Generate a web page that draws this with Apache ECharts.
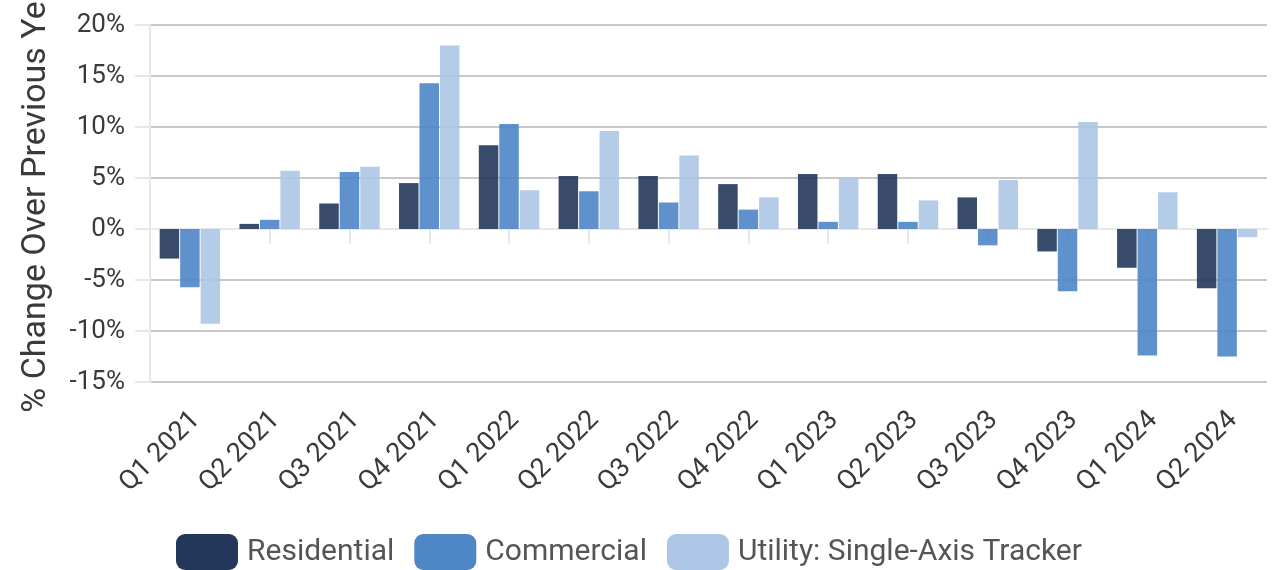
<!DOCTYPE html>
<html>
<head>
<meta charset="utf-8">
<script src="https://cdn.jsdelivr.net/npm/echarts@6/dist/echarts.min.js"></script>
<style>
html,body{margin:0;padding:0;background:#fff;}
#c{width:1276px;height:570px;}
</style>
</head>
<body>
<div id="c"></div>
<script>
var categories = ['Q1 2021','Q2 2021','Q3 2021','Q4 2021','Q1 2022','Q2 2022','Q3 2022','Q4 2022','Q1 2023','Q2 2023','Q3 2023','Q4 2023','Q1 2024','Q2 2024'];
var residential = [-2.9, 0.5, 2.5, 4.5, 8.2, 5.2, 5.2, 4.4, 5.4, 5.4, 3.1, -2.2, -3.8, -5.8];
var commercial  = [-5.7, 0.9, 5.6, 14.3, 10.3, 3.7, 2.6, 1.9, 0.7, 0.7, -1.6, -6.1, -12.4, -12.5];
var utility     = [-9.3, 5.7, 6.1, 18.0, 3.8, 9.6, 7.2, 3.1, 5.0, 2.8, 4.8, 10.5, 3.6, -0.8];
var seriesNames = ['Residential', 'Commercial', 'Utility: Single-Axis Tracker'];
var colors = ['#22375a', '#4e86c6', '#adc6e6'];

var chart = echarts.init(document.getElementById('c'), null, {renderer: 'canvas'});
var font = 'Roboto';
function bar(name, data, color) {
  return {
    name: name, type: 'bar', data: data,
    barWidth: 19.5, barGap: '5%',
    itemStyle: {color: color, opacity: 0.9},
    emphasis: {disabled: true}
  };
}
chart.setOption({
  animation: false,
  color: colors,
  textStyle: {fontFamily: font},
  grid: {left: 150, right: 9, top: 25, bottom: 188, containLabel: false, outerBoundsMode: 'none'},
  legend: {
    left: 171, top: 529,
    itemWidth: 62, itemHeight: 36, itemGap: 20,
    icon: 'roundRect',
    itemStyle: {opacity: 1},
    textStyle: {fontFamily: font, fontSize: 30, color: '#555', padding: [0, 0, 0, 4]},
    data: seriesNames
  },
  xAxis: {
    type: 'category', data: categories,
    axisLine: {show: true, lineStyle: {color: '#e8e8e8', width: 2}},
    axisTick: {show: true, alignWithLabel: true, length: 15, lineStyle: {color: '#e8e8e8', width: 2}},
    axisLabel: {rotate: 45, fontSize: 27, color: '#3a3a3a', fontFamily: font, margin: 21, interval: 0,
      verticalAlign: 'top', padding: [0, 5, 0, 0]},
    splitLine: {show: false}
  },
  yAxis: {
    type: 'value', min: -15, max: 20, interval: 5,
    name: '% Change Over Previous Year', nameLocation: 'middle', nameGap: 97,
    nameTextStyle: {fontSize: 34, color: '#3a3a3a', fontFamily: font, padding: [0, 0, 0, 23]},
    axisLine: {show: true, lineStyle: {color: '#e8e8e8', width: 2}},
    axisTick: {show: true, length: 15, lineStyle: {color: '#e8e8e8', width: 2}},
    axisLabel: {formatter: '{value}%', fontSize: 26, color: '#3a3a3a', fontFamily: font, margin: 25},
    splitLine: {show: true, lineStyle: {color: '#c8c8c8', width: 2}}
  },
  series: [
    bar(seriesNames[0], residential, colors[0]),
    bar(seriesNames[1], commercial, colors[1]),
    bar(seriesNames[2], utility, colors[2])
  ]
});
</script>
</body>
</html>
